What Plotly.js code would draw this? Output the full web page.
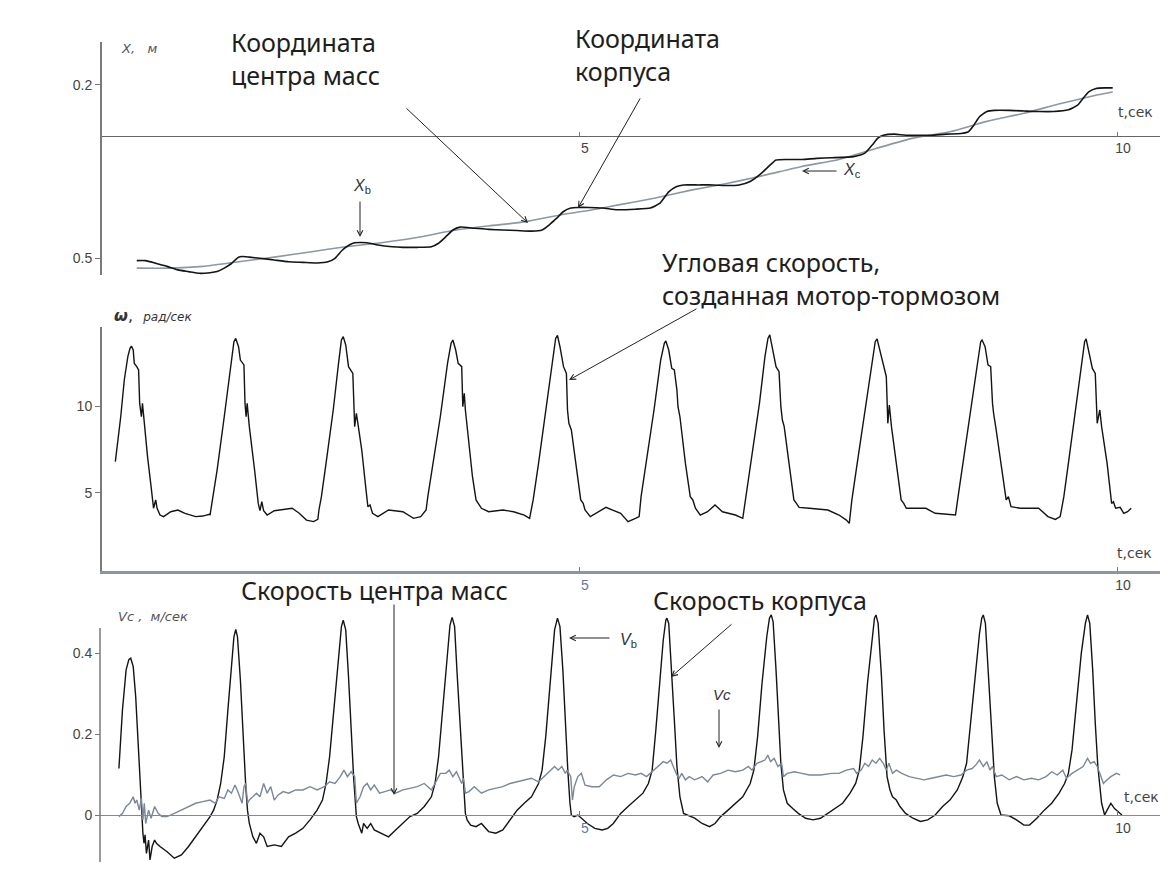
<!DOCTYPE html>
<html>
<head>
<meta charset="utf-8">
<script src="https://cdn.plot.ly/plotly-3.0.1.min.js"></script>
<style>
html,body{margin:0;padding:0;background:#fff;}
#chart{width:1175px;height:881px;}
</style>
</head>
<body>
<div id="chart"></div>
<script>
// ---------- data (time in seconds) ----------
// Panel 1: coordinates, m
const tXb = [0.890,0.973,1.073,1.172,1.272,1.371,1.471,1.571,1.637,1.703,1.770,1.803,1.836,1.869,1.936,2.035,2.168,2.301,2.434,2.566,2.666,2.732,2.799,2.865,2.915,3.031,3.131,3.263,3.363,3.496,3.628,3.695,3.761,3.828,3.894,4.027,4.160,4.292,4.425,4.558,4.657,4.724,4.790,4.856,4.923,4.989,5.089,5.221,
5.353,5.525,5.663,5.749,5.834,5.903,5.972,6.110,6.247,6.385,6.488,6.591,6.694,6.780,6.831,6.935,7.072,7.210,7.347,7.553,7.657,7.725,7.777,7.828,7.932,8.035,8.172,8.275,8.413,8.551,8.619,8.671,8.722,8.791,8.860,8.998,9.135,9.272,9.410,9.548,9.633,9.685,9.737,9.805,9.891,9.960];
const xBody = [0.504,0.504,0.509,0.514,0.520,0.523,0.526,0.525,0.523,0.517,0.509,0.503,0.498,0.497,0.498,0.500,0.503,0.506,0.507,0.508,0.506,0.500,0.486,0.477,0.473,0.473,0.477,0.480,0.481,0.481,0.480,0.474,0.463,0.451,0.446,0.448,0.450,0.451,0.452,0.453,0.451,0.442,0.431,0.419,0.413,0.412,0.412,0.413,
0.416,0.415,0.413,0.405,0.385,0.376,0.373,0.373,0.373,0.374,0.373,0.367,0.353,0.338,0.330,0.329,0.329,0.327,0.326,0.324,0.318,0.304,0.292,0.287,0.285,0.287,0.287,0.287,0.285,0.284,0.281,0.269,0.255,0.246,0.244,0.244,0.245,0.246,0.246,0.243,0.235,0.223,0.212,0.206,0.205,0.205];
const tXc = [0.890,1.172,1.504,1.836,2.168,2.500,2.832,3.164,3.496,3.828,4.160,4.491,4.823,5.155,5.353,5.697,6.041,6.385,6.728,7.072,7.416,7.760,8.104,8.447,8.791,9.135,9.479,9.822,9.960];
const xCenter = [0.517,0.517,0.514,0.506,0.498,0.489,0.480,0.473,0.464,0.452,0.444,0.437,0.425,0.415,0.408,0.396,0.382,0.370,0.356,0.341,0.329,0.310,0.292,0.281,0.263,0.249,0.232,0.217,0.212];

// Panel 2: angular velocity, rad/s
const tOmega = [0.691,0.708,0.741,0.774,0.807,0.827,0.840,0.857,0.867,0.890,0.907,0.917,0.933,0.943,0.960,0.990,1.023,1.046,1.066,1.079,1.106,1.139,1.206,1.272,1.338,1.438,1.504,1.564,
1.571,1.597,1.637,1.703,1.763,1.793,1.810,1.836,1.853,1.886,1.896,1.906,1.916,1.936,1.985,2.019,2.035,2.052,2.069,2.102,2.168,2.234,2.334,2.400,2.467,2.533,2.573,
2.583,2.606,2.649,2.716,2.765,2.792,2.809,2.832,2.858,2.898,2.915,2.931,2.945,2.981,3.014,3.038,3.058,3.081,3.131,3.230,3.363,3.462,3.529,3.579,
3.595,3.645,3.711,3.778,3.811,3.828,3.854,3.877,3.910,3.920,3.934,3.944,3.977,4.010,4.043,4.067,4.093,4.160,4.292,4.392,4.491,4.541,
4.574,4.624,4.691,4.750,4.783,4.800,4.823,4.856,4.883,4.893,4.906,4.929,4.973,5.016,5.039,5.056,5.105,
5.250,5.387,5.456,5.525,5.559,
5.577,5.628,5.697,5.759,5.793,5.807,5.834,5.862,5.886,5.910,5.920,5.938,5.989,6.034,6.058,6.082,6.127,6.195,6.264,6.333,6.453,6.522,
6.556,6.608,6.677,6.728,6.756,6.773,6.797,6.831,6.859,6.876,6.890,6.907,6.952,6.997,7.021,7.045,7.141,7.313,7.416,7.485,7.512,
7.536,7.581,7.657,7.718,7.753,7.770,7.794,7.835,7.856,7.870,7.884,7.904,7.949,7.994,8.018,8.042,8.121,8.224,8.310,8.447,8.499,
8.523,8.568,8.636,8.705,8.733,8.746,8.774,8.801,8.826,8.843,8.853,8.877,8.929,8.970,8.991,9.015,9.101,9.272,9.358,9.427,9.472,
9.506,9.548,9.616,9.678,9.699,9.713,9.737,9.771,9.798,9.816,9.840,9.857,9.908,9.950,9.967,9.987,10.029,10.063,10.098,10.132];
const omega = [6.79,7.65,9.38,11.50,12.85,13.33,13.46,13.23,12.46,12.27,12.08,10.15,9.38,10.15,9.00,7.08,5.35,4.10,4.58,4.10,3.71,3.62,3.90,4.00,3.81,3.62,3.65,3.75,
3.71,4.77,6.31,9.38,12.27,13.71,13.90,13.42,12.65,12.37,10.15,9.38,10.15,8.81,6.31,4.38,3.96,4.48,3.96,3.71,3.96,4.00,4.10,3.81,3.42,3.33,3.46,
4.00,4.77,6.69,9.77,12.46,13.81,14.00,13.52,12.27,11.88,8.81,9.58,9.00,7.46,5.54,4.19,4.29,3.81,3.62,4.00,3.90,3.52,3.62,4.00,
4.77,6.69,9.38,12.46,13.62,13.81,13.23,12.46,12.27,9.96,10.73,9.77,7.85,5.92,4.58,4.38,4.10,3.90,4.00,3.90,3.71,3.52,
4.58,6.69,9.77,12.65,13.90,14.08,13.42,12.27,11.88,9.77,9.00,8.62,6.69,4.58,4.38,4.00,3.62,
4.15,3.81,3.33,3.52,3.62,
4.77,6.88,9.77,12.65,13.62,13.75,13.23,12.17,12.08,10.92,9.96,9.38,6.69,4.77,4.58,4.10,3.71,3.90,4.29,3.90,3.71,3.52,
4.96,7.08,10.15,12.85,13.90,14.10,13.42,12.27,11.98,9.96,9.19,8.81,6.69,4.58,4.38,4.15,4.10,4.00,3.71,3.42,3.23,
4.58,6.50,9.77,12.46,13.71,13.87,13.23,12.08,11.69,9.00,10.06,8.81,6.69,4.58,4.38,4.10,4.10,4.10,3.81,3.71,3.71,
4.77,6.69,9.77,12.65,13.71,13.81,13.42,12.37,12.27,10.15,9.58,8.62,6.31,4.58,4.77,4.19,4.10,4.10,3.62,3.46,3.62,
4.77,6.69,9.77,12.65,13.71,13.87,13.23,12.17,11.88,9.00,9.77,8.81,6.69,4.38,4.48,4.10,4.15,3.81,3.90,4.10];

// Panel 3: velocities, m/s
const tVb = [0.724,0.757,0.791,0.817,0.834,0.857,0.880,0.907,0.930,0.947,0.957,0.967,0.980,1.000,1.013,1.033,1.056,1.073,1.106,1.172,1.239,1.305,1.371,1.438,1.504,1.571,1.604,1.637,1.670,1.703,1.737,1.770,1.793,1.810,1.826,1.853,1.876,1.903,1.919,1.936,1.969,2.002,2.035,2.069,2.102,2.168,2.234,2.301,2.367,2.434,2.500,2.566,2.616,2.649,2.682,2.716,2.759,2.792,2.809,2.832,2.858,2.882,2.905,2.931,2.948,2.981,2.998,3.031,3.064,3.097,3.164,3.230,3.296,3.363,3.429,3.496,3.562,3.628,3.662,3.695,3.728,3.768,3.801,3.821,3.844,3.867,3.894,3.920,3.944,3.960,3.993,4.043,4.093,4.160,4.226,4.292,4.359,4.425,4.491,4.558,4.624,4.657,4.691,4.730,4.773,4.800,4.823,4.850,4.873,4.896,4.916,4.929,4.956,4.989,
5.078,5.147,5.216,5.267,5.319,5.387,5.456,5.525,5.594,5.645,5.680,5.714,5.749,5.783,5.807,5.817,5.834,5.862,5.886,5.910,5.938,5.972,6.006,6.075,6.144,6.213,6.264,6.316,6.385,6.453,6.522,6.591,6.625,6.660,6.701,6.745,6.770,6.787,6.804,6.831,6.856,6.876,6.900,6.935,6.986,7.038,7.106,7.175,7.244,7.313,7.381,7.450,7.519,7.571,7.605,7.639,7.681,7.725,7.746,7.760,7.780,7.811,7.835,7.863,7.890,7.914,7.949,7.983,8.035,8.104,8.172,8.241,8.310,8.379,8.447,8.516,8.568,8.602,8.636,8.678,8.722,8.743,8.757,8.777,8.808,8.832,8.860,8.887,8.922,8.998,9.066,9.135,9.187,9.255,9.324,9.393,9.462,9.513,9.548,9.582,9.623,9.668,9.706,9.726,9.747,9.774,9.798,9.822,9.857,9.885,9.908,9.943,9.977,10.012,10.046];
const vBody = [0.115,0.260,0.359,0.385,0.388,0.367,0.293,0.144,0.029,-0.045,-0.070,-0.049,-0.095,-0.062,-0.111,-0.078,-0.062,-0.070,-0.078,-0.091,-0.107,-0.099,-0.078,-0.054,-0.029,-0.004,0.012,0.037,0.078,0.144,0.260,0.375,0.441,0.459,0.441,0.334,0.194,0.070,0.012,-0.021,-0.054,-0.070,-0.045,-0.054,-0.078,-0.074,-0.078,-0.054,-0.045,-0.033,-0.012,0.012,0.037,0.078,0.144,0.243,0.367,0.466,0.482,0.458,0.342,0.210,0.095,-0.004,-0.021,-0.045,-0.021,-0.033,-0.021,-0.037,-0.045,-0.054,-0.037,-0.021,-0.004,0.004,0.021,0.045,0.078,0.144,0.243,0.359,0.470,0.489,0.466,0.351,0.219,0.095,0.004,-0.012,-0.025,-0.029,-0.021,-0.041,-0.045,-0.037,-0.012,0.012,0.029,0.045,0.078,0.111,0.194,0.318,0.458,0.487,0.466,0.359,0.227,0.111,0.029,0.000,-0.004,0.000,
-0.021,-0.033,-0.037,-0.033,-0.021,0.004,0.021,0.037,0.054,0.078,0.111,0.210,0.318,0.433,0.482,0.487,0.474,0.359,0.235,0.120,0.045,0.004,0.000,-0.008,-0.021,-0.029,-0.021,-0.004,0.012,0.029,0.045,0.078,0.111,0.194,0.326,0.441,0.487,0.495,0.478,0.359,0.235,0.128,0.062,0.029,0.016,0.004,-0.008,-0.012,-0.008,0.004,0.016,0.029,0.054,0.078,0.111,0.194,0.326,0.445,0.487,0.495,0.474,0.342,0.210,0.095,0.062,0.045,0.037,0.021,0.004,-0.008,-0.016,-0.012,0.000,0.021,0.037,0.062,0.095,0.128,0.219,0.342,0.449,0.487,0.495,0.474,0.342,0.210,0.095,0.029,0.000,-0.002,-0.012,-0.025,-0.025,-0.008,0.012,0.029,0.054,0.078,0.103,0.161,0.276,0.400,0.474,0.495,0.474,0.359,0.227,0.120,0.029,0.000,0.012,0.029,0.016,0.008,0.000];
const tVc = [0.724,0.757,0.791,0.824,0.857,0.874,0.890,0.913,0.933,0.947,0.960,0.973,1.000,1.023,1.056,1.089,1.123,1.172,1.239,1.305,1.371,1.438,1.504,1.571,1.620,1.654,1.703,1.737,1.770,1.803,1.829,1.853,1.869,1.886,1.903,1.919,1.936,1.969,2.002,2.035,2.069,2.102,2.135,2.168,2.201,2.251,2.301,2.367,2.434,2.500,2.566,2.633,2.682,2.732,2.782,2.815,2.848,2.882,2.915,2.931,2.948,2.965,2.998,3.031,3.064,3.097,3.147,3.197,3.247,3.296,3.363,3.429,3.496,3.562,3.628,3.662,3.711,3.761,3.794,3.828,3.861,3.910,3.927,3.944,3.977,4.027,4.093,4.160,4.226,4.292,4.359,4.425,4.491,4.558,4.624,4.674,4.724,4.773,4.807,4.840,4.873,4.890,4.923,4.939,4.956,4.989,5.022,5.056,5.122,5.188,5.255,5.321,
5.387,5.456,5.525,5.577,5.628,5.663,5.697,5.731,5.783,5.817,5.852,5.876,5.910,5.931,5.955,5.989,6.024,6.075,6.144,6.195,6.247,6.316,6.385,6.453,6.522,6.574,6.608,6.653,6.694,6.728,6.756,6.780,6.814,6.849,6.883,6.900,6.935,7.003,7.072,7.141,7.244,7.347,7.416,7.485,7.553,7.581,7.622,7.657,7.691,7.725,7.760,7.794,7.828,7.856,7.880,7.914,7.949,8.000,8.069,8.138,8.207,8.275,8.344,8.413,8.482,8.551,8.602,8.654,8.688,8.722,8.757,8.791,8.819,8.843,8.877,8.929,8.998,9.066,9.135,9.204,9.272,9.341,9.393,9.444,9.496,9.530,9.582,9.633,9.685,9.726,9.754,9.788,9.816,9.840,9.874,9.908,9.943,9.994,10.029];
const vCenter = [-0.004,0.004,0.021,0.029,0.045,0.029,0.037,0.012,0.041,-0.012,0.029,-0.021,0.012,-0.008,0.021,0.004,-0.004,-0.004,0.004,0.012,0.021,0.029,0.033,0.037,0.029,0.045,0.041,0.062,0.054,0.074,0.058,0.037,0.029,0.070,0.078,0.029,0.037,0.045,0.054,0.045,0.078,0.054,0.070,0.037,0.049,0.058,0.054,0.062,0.062,0.070,0.062,0.070,0.082,0.078,0.095,0.111,0.095,0.107,0.095,0.029,0.037,0.045,0.070,0.078,0.062,0.074,0.054,0.058,0.062,0.054,0.062,0.066,0.070,0.078,0.062,0.078,0.103,0.103,0.111,0.095,0.107,0.078,0.091,0.054,0.058,0.070,0.054,0.062,0.066,0.070,0.078,0.082,0.087,0.091,0.082,0.095,0.107,0.120,0.111,0.120,0.103,0.111,0.095,0.037,0.070,0.095,0.103,0.074,0.070,0.070,0.087,0.099,
0.095,0.103,0.099,0.103,0.095,0.103,0.111,0.120,0.132,0.128,0.136,0.120,0.099,0.091,0.103,0.087,0.095,0.087,0.095,0.082,0.099,0.103,0.111,0.107,0.111,0.120,0.111,0.128,0.132,0.136,0.148,0.132,0.140,0.120,0.128,0.095,0.103,0.107,0.103,0.099,0.099,0.103,0.103,0.111,0.115,0.103,0.111,0.128,0.120,0.136,0.128,0.140,0.128,0.111,0.128,0.103,0.111,0.103,0.095,0.091,0.087,0.091,0.095,0.099,0.095,0.099,0.111,0.115,0.124,0.136,0.120,0.132,0.111,0.120,0.095,0.099,0.087,0.095,0.087,0.091,0.087,0.095,0.107,0.099,0.111,0.091,0.103,0.111,0.120,0.140,0.128,0.132,0.120,0.103,0.078,0.087,0.095,0.103,0.099];

// tick labels
const tTickVals = [5, 10];
const tTickText1 = ['5', '10'];
const tTickText23 = ['<span style="color:#6079a6">5</span>', '10'];
const xTickVals = [0.2, 0.5];
const xTickText = ['0.2', '0.5'];
const wTickVals = [5, 10];
const wTickText = ['5', '10'];
const vTickVals = [0, 0.2, 0.4];
const vTickText = ['0', '0.2', '0.4'];

// ---------- layout helpers ----------
const W = 1175, H = 881;
const px = x => x / W;
const py = y => 1 - y / H;

const TRANGE = [0.5483, 10.3996];
const XDOM = [px(100), px(1160)];
const tickFont = {family: 'Liberation Sans, Arial, sans-serif', size: 14, color: '#444'};

function tAxis(extra) {
  return Object.assign({
    domain: XDOM, range: TRANGE, showgrid: false, zeroline: false,
    showline: true, ticks: 'inside', ticklen: 4, tickcolor: '#777',
    tickvals: tTickVals, tickfont: tickFont, ticklabelshift: 6, fixedrange: true
  }, extra);
}
function vAxis(extra) {
  return Object.assign({
    anchor: 'free', position: px(100), showgrid: false, zeroline: false,
    showline: true, linecolor: '#7a7a7a', linewidth: 1.5,
    ticks: 'outside', ticklen: 5, tickcolor: '#777', tickfont: tickFont, fixedrange: true
  }, extra);
}

const black = {color: '#141414', width: 1.4};
const traces = [
  {x: tXc, y: xCenter, xaxis: 'x', yaxis: 'y', mode: 'lines', line: {color: '#8d97a5', width: 1.6, shape: 'spline', smoothing: 0.6}},
  {x: tXb, y: xBody, xaxis: 'x', yaxis: 'y', mode: 'lines', line: {color: '#141414', width: 1.6, shape: 'spline', smoothing: 0.5}},
  {x: tOmega, y: omega, xaxis: 'x2', yaxis: 'y2', mode: 'lines', line: black},
  {x: tVb, y: vBody, xaxis: 'x3', yaxis: 'y3', mode: 'lines', line: black},
  {x: tVc, y: vCenter, xaxis: 'x3', yaxis: 'y3', mode: 'lines', line: {color: '#7c8798', width: 1.4}}
];

const BIG = {family: 'Noto Sans, Open Sans, sans-serif', size: 25, color: '#1e1e1e'};
const AX = {family: 'DejaVu Sans, sans-serif', size: 13, color: '#555'};
const TS = {family: 'DejaVu Sans, sans-serif', size: 14, color: '#444'};
const LBL = {family: 'Liberation Sans, Arial, sans-serif', size: 16, color: '#333'};

function txt(text, x, y, font, xanchor) {
  return {text: text, x: px(x), y: py(y), xref: 'paper', yref: 'paper', showarrow: false,
          xanchor: xanchor || 'left', yanchor: 'middle', align: 'left', font: font};
}
function arr(tx, ty, hx, hy) {
  return {text: '', x: px(hx), y: py(hy), xref: 'paper', yref: 'paper', showarrow: true,
          ax: tx - hx, ay: ty - hy, arrowhead: 5, arrowsize: 1.1, arrowwidth: 1, arrowcolor: '#222', standoff: 0};
}

const annotations = [
  txt('Координата<br>центра масс', 229, 58, BIG),
  txt('Координата<br>корпуса', 573, 55, BIG),
  txt('Угловая скорость,<br>созданная мотор-тормозом', 660, 279, BIG),
  txt('Скорость центра масс', 239, 590, BIG),
  txt('Скорость корпуса', 651, 600, BIG),
  txt('<i>X,&nbsp;&nbsp;&nbsp;м</i>', 119, 48, AX),
  txt('<b><i>ω</i></b>,&nbsp;&nbsp;<i><span style="font-size:12px">рад/сек</span></i>', 112, 315, {family: 'DejaVu Sans, sans-serif', size: 16, color: '#333'}),
  txt('<i>Vc ,&nbsp;&nbsp;м/сек</i>', 116, 616, AX),
  txt('t,сек', 1135, 112, TS, 'center'),
  txt('t,сек', 1134, 553, TS, 'center'),
  txt('t,сек', 1141, 797, TS, 'center'),
  txt('<i>X</i><sub>b</sub>', 362, 187, LBL, 'center'),
  txt('<i>X</i><sub>c</sub>', 841, 170, LBL),
  txt('<i>V</i><sub>b</sub>', 618, 640, LBL),
  txt('<i>Vc</i>', 722, 694, {family: 'Liberation Sans, Arial, sans-serif', size: 15, color: '#333'}, 'center'),
  arr(405, 107, 528, 223),
  arr(641, 97, 578, 208),
  arr(360, 200, 360, 237),
  arr(838, 171, 802, 171),
  arr(698, 308, 569, 380),
  arr(394, 603, 394, 795),
  arr(733, 623, 671, 677),
  arr(611, 638, 569, 638),
  arr(719, 708, 719, 748)
];

const layout = {
  width: W, height: H,
  margin: {l: 0, r: 0, t: 0, b: 0},
  paper_bgcolor: '#ffffff', plot_bgcolor: 'rgba(0,0,0,0)',
  showlegend: false,
  xaxis: tAxis({anchor: 'free', position: py(135.5), linecolor: '#666', linewidth: 1, ticktext: tTickText1}),
  yaxis: vAxis({domain: [py(275), py(42)], range: [0.5289, 0.1256], tickvals: xTickVals, ticktext: xTickText}),
  xaxis2: tAxis({anchor: 'y2', linecolor: '#8e95a2', linewidth: 2.5, ticktext: tTickText23}),
  yaxis2: vAxis({domain: [py(571), py(327)], range: [0.481, 14.558], tickvals: wTickVals, ticktext: wTickText}),
  xaxis3: tAxis({anchor: 'free', position: py(815), linecolor: '#888', linewidth: 1, ticktext: tTickText23}),
  // panel 3 plot area extends above its drawn axis line so the peaks are not clipped
  yaxis3: vAxis({domain: [py(862), py(610)], range: [-0.1163, 0.5072], showline: false, tickvals: vTickVals, ticktext: vTickText}),
  shapes: [
    {type: 'line', xref: 'paper', yref: 'paper', x0: px(100), x1: px(100), y0: py(628), y1: py(862),
     line: {color: '#7a7a7a', width: 1.5}}
  ],
  annotations: annotations
};

Plotly.newPlot('chart', traces, layout, {displayModeBar: false, staticPlot: true});
</script>
</body>
</html>
